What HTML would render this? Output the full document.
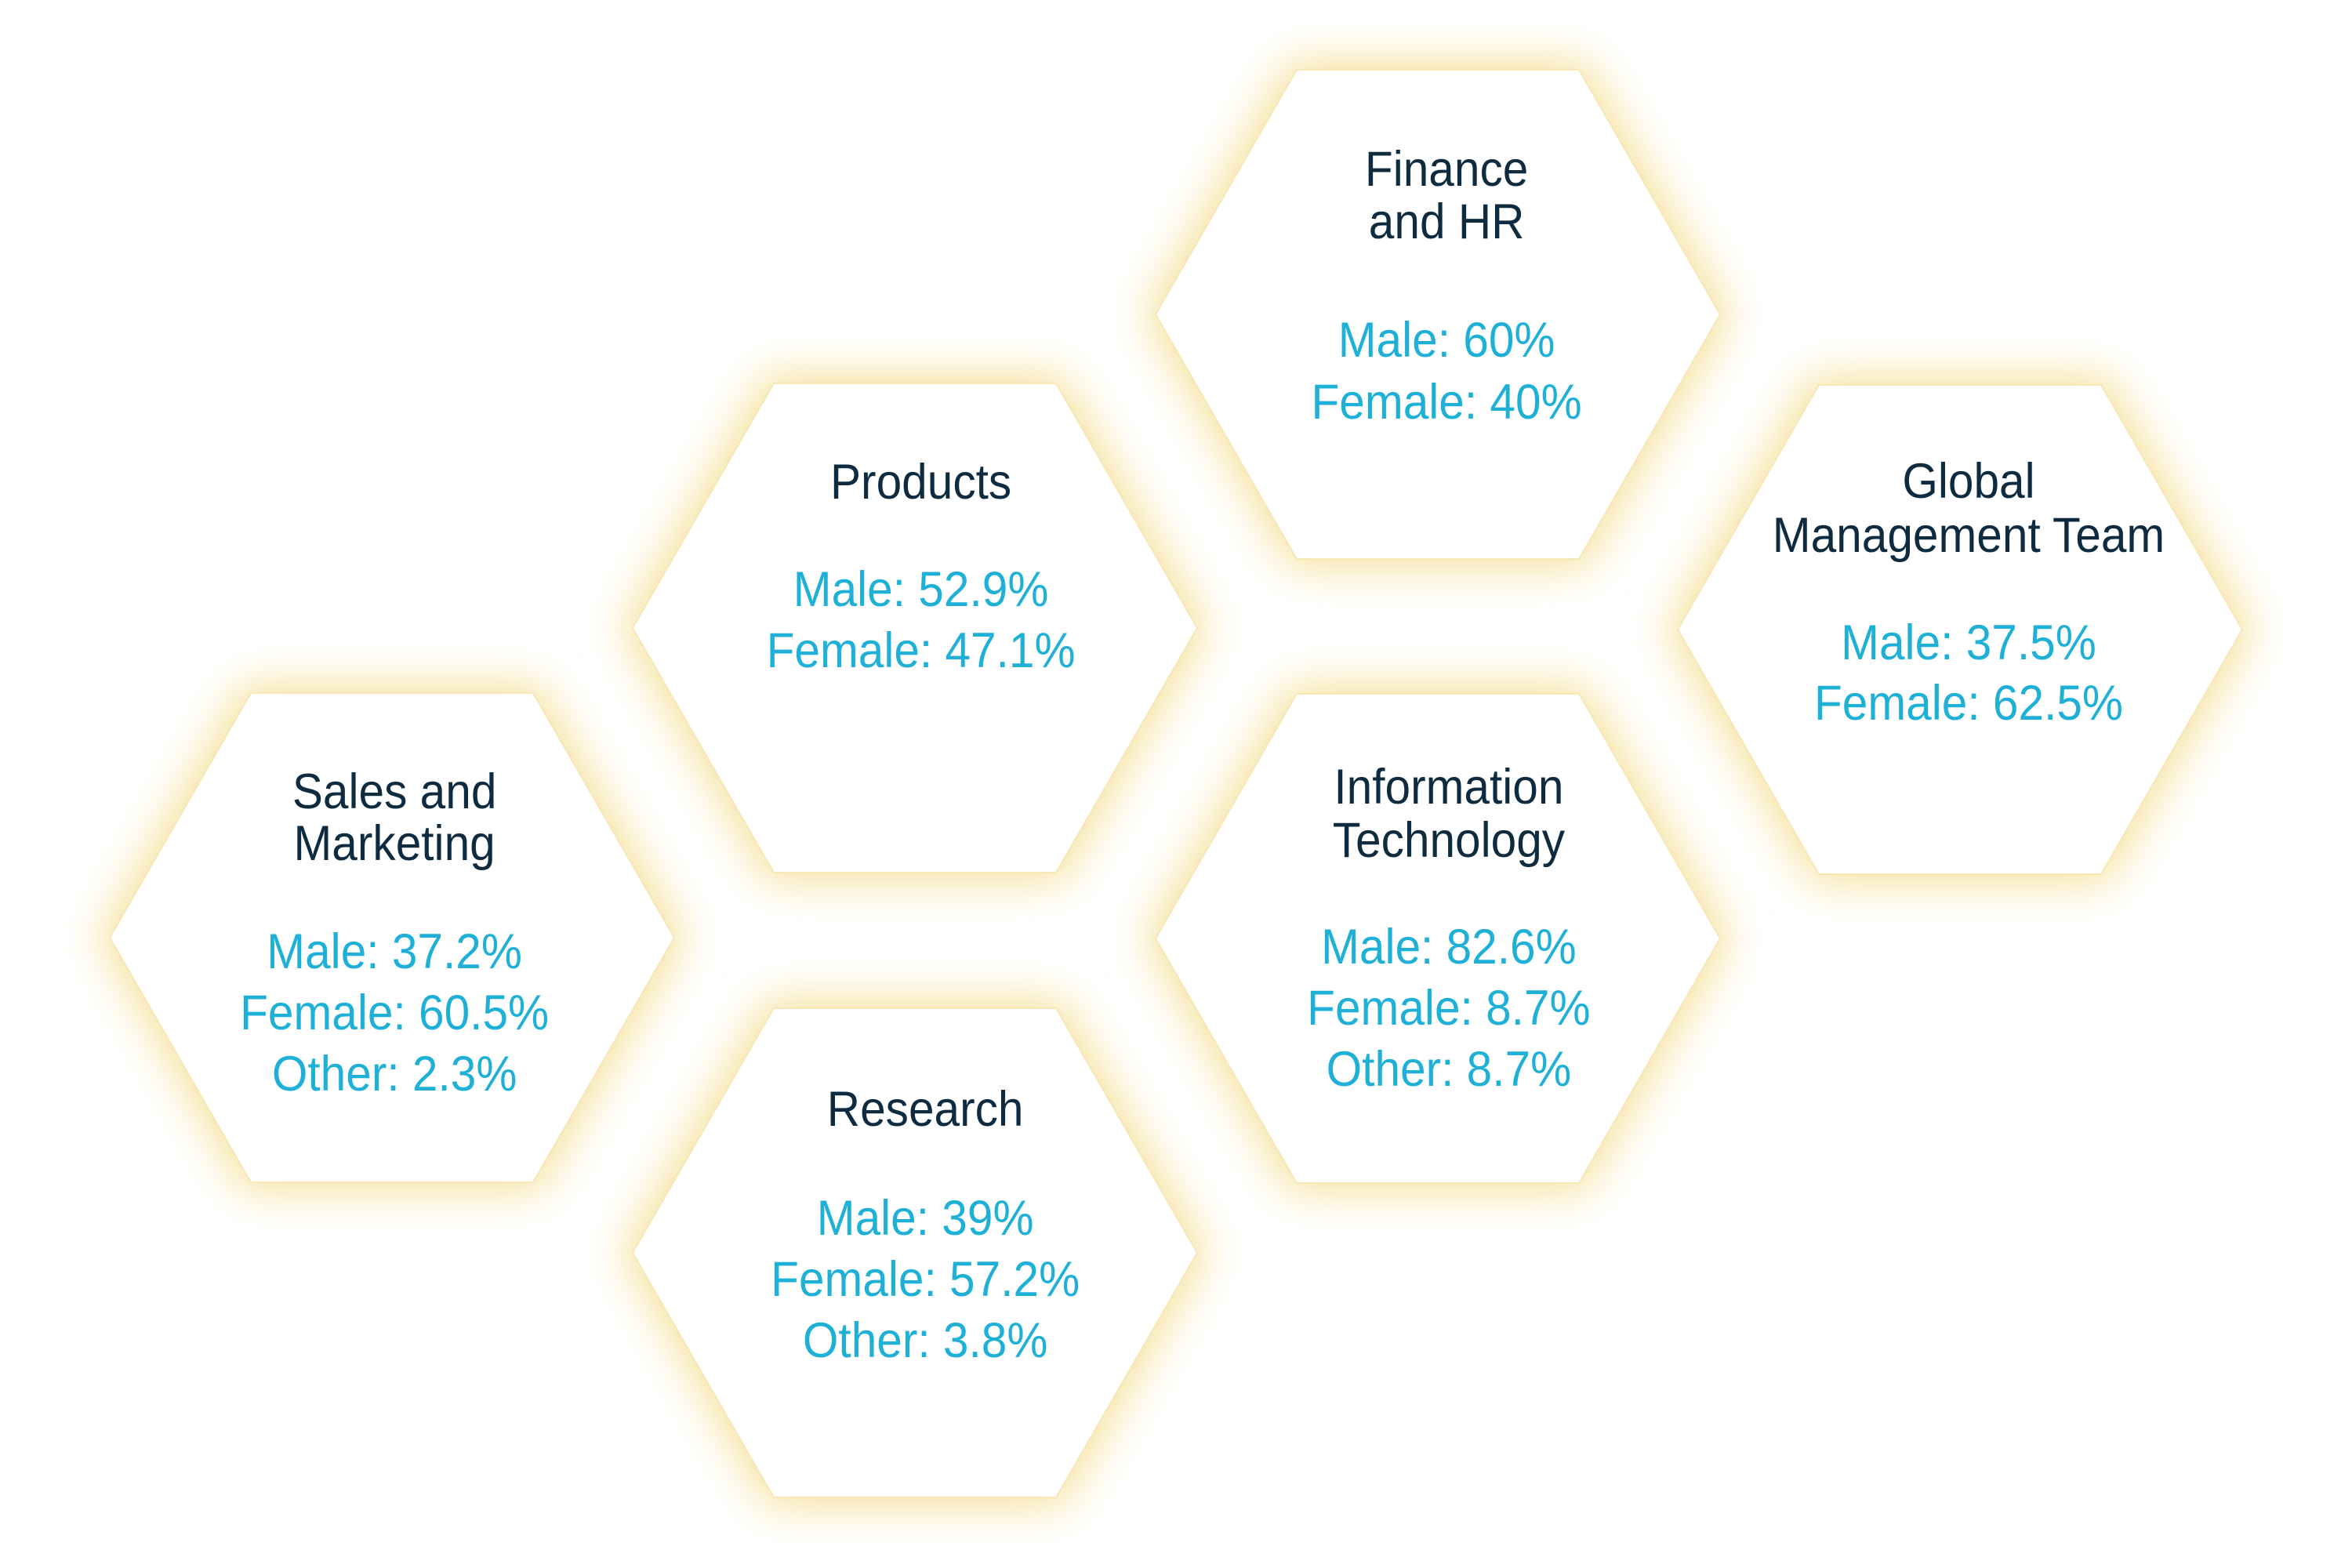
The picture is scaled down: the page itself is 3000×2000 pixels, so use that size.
<!DOCTYPE html>
<html><head><meta charset="utf-8">
<style>
html,body{margin:0;padding:0;background:#fff;width:3000px;height:2000px;overflow:hidden}
svg{display:block}
.t{font-family:"Liberation Sans",sans-serif;font-size:63px;fill:#0e2b40;text-anchor:middle}
.v{font-family:"Liberation Sans",sans-serif;font-size:63px;fill:#1fb0d8;text-anchor:middle}
</style></head>
<body>
<svg width="3000" height="2000" viewBox="0 0 3000 2000" xmlns="http://www.w3.org/2000/svg">
<defs>
<filter id="g" x="-30%" y="-30%" width="160%" height="160%">
<feGaussianBlur stdDeviation="28"/>
</filter>
<polygon id="h" points="-360,0 -180,-312 180,-312 360,0 180,312 -180,312"/>
</defs>
<g fill="#f5dc8c" stroke="#f5dc8c" stroke-width="24" filter="url(#g)" opacity="0.85">
<use href="#h" x="1834" y="401"/>
<use href="#h" x="1167" y="801"/>
<use href="#h" x="2500" y="803"/>
<use href="#h" x="500" y="1196"/>
<use href="#h" x="1834" y="1197"/>
<use href="#h" x="1167" y="1598"/>
</g>
<g fill="#fff" stroke="#f8e8b8" stroke-width="2">
<use href="#h" x="1834" y="401"/>
<use href="#h" x="1167" y="801"/>
<use href="#h" x="2500" y="803"/>
<use href="#h" x="500" y="1196"/>
<use href="#h" x="1834" y="1197"/>
<use href="#h" x="1167" y="1598"/>
</g>
<g transform="scale(0.93,1)">
<!-- Finance -->
<text class="t" x="1984" y="237">Finance</text>
<text class="t" x="1984" y="304">and HR</text>
<text class="v" x="1984" y="455">Male: 60%</text>
<text class="v" x="1984" y="534">Female: 40%</text>
<!-- Products -->
<text class="t" x="1263" y="636">Products</text>
<text class="v" x="1263" y="773">Male: 52.9%</text>
<text class="v" x="1263" y="851">Female: 47.1%</text>
<!-- Global -->
<text class="t" x="2700" y="635">Global</text>
<text class="t" x="2700" y="704">Management Team</text>
<text class="v" x="2700" y="841">Male: 37.5%</text>
<text class="v" x="2700" y="918">Female: 62.5%</text>
<!-- Sales -->
<text class="t" x="541" y="1031">Sales and</text>
<text class="t" x="541" y="1097">Marketing</text>
<text class="v" x="541" y="1235">Male: 37.2%</text>
<text class="v" x="541" y="1313">Female: 60.5%</text>
<text class="v" x="541" y="1391">Other: 2.3%</text>
<!-- IT -->
<text class="t" x="1987" y="1025">Information</text>
<text class="t" x="1987" y="1093">Technology</text>
<text class="v" x="1987" y="1229">Male: 82.6%</text>
<text class="v" x="1987" y="1307">Female: 8.7%</text>
<text class="v" x="1987" y="1385">Other: 8.7%</text>
<!-- Research -->
<text class="t" x="1269" y="1436">Research</text>
<text class="v" x="1269" y="1575">Male: 39%</text>
<text class="v" x="1269" y="1653">Female: 57.2%</text>
<text class="v" x="1269" y="1731">Other: 3.8%</text>
</g>
</svg>
</body></html>
